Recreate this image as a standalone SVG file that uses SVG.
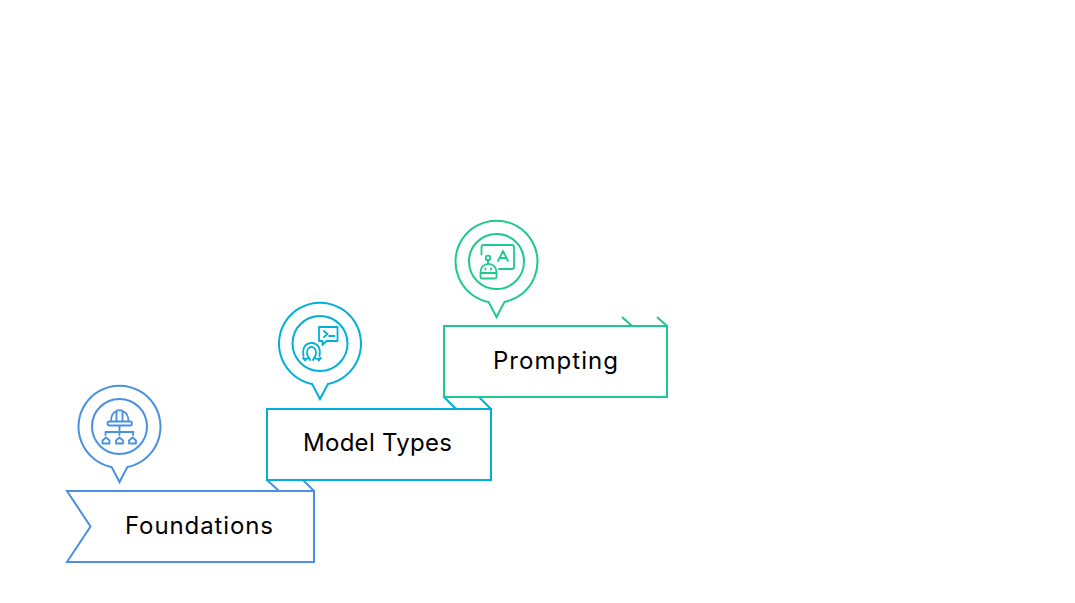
<svg xmlns="http://www.w3.org/2000/svg" width="1075" height="603" viewBox="0 0 1075 603">
<style>
.s{fill:none;stroke-width:2;stroke-linejoin:miter}
.i{fill:none;stroke-width:1.8;stroke-linejoin:round;stroke-linecap:round}
.t{font-family:Inter,"Noto Sans","Liberation Sans",sans-serif;font-size:24px;fill:#000}
.b{stroke:#4a90e2}.c{stroke:#00b0d9}.g{stroke:#1ec98e}
</style>
<defs>
<g id="pin">
<path d="M-8 39.900A41 41 0 1 1 8 39.900L0 55Z"/>
<circle cx="0" cy="-0.500" r="27.500"/>
</g>
</defs>
<rect width="1075" height="603" fill="#fff"/>
<g id="connectors">
<path class="s g" d="M622 317L632 326M657 317L667 326"/>
<path class="s c" d="M444 397L456 409M479 397L491 409"/>
<path class="s b" d="M267 480L279 491M303 480L314 491"/>
</g>
<g id="foundations">
<path class="s b" d="M67 491H314V562H67L90.500 526.500Z"/>
<text class="t" x="125" y="534" textLength="148">Foundations</text>
<use href="#pin" class="s b" x="119.500" y="427"/>
<g class="i b">
<path d="M109.500 421.500H130A1.500 1.500 0 0 1 130 425.500H109.500A1.500 1.500 0 0 1 109.500 421.500ZM111 421.500C111 415 113.500 412 116.500 411V421.500M122.500 421.500V411C125.500 412 128.500 415 128.500 421.500M116.500 411C118 410 121 410 122.500 411"/>
<path d="M119.500 426V435M105.500 432H133.500M105.500 432V435M133 432V435M119.500 432V435"/>
<path d="M102.500 443.500V440.500L106 437.500L109.500 440.500V443.500ZM116 443.500V440.500L119.500 437.500L123 440.500V443.500ZM129 443.500V440.500L132.500 437.500L136 440.500V443.500Z"/>
</g>
</g>
<g id="model-types">
<path class="s c" d="M267 409H491V480H267Z"/>
<text class="t" x="303" y="451" textLength="149">Model Types</text>
<use href="#pin" class="s c" x="320" y="344"/>
<g class="i c">
<path d="M319 327H337.500V341H326.500L322.500 345V341H319Z"/>
<path d="M324 331L327.500 334L324 337M329 336H334.500"/>
<path d="M307 353C307 345 316 345 316 353C316 355 315.500 356 314 358C316 359 319 359 321 358L318.500 360.500M307 353C307 355 307.500 356 309 358C307 359 305 359 303 358L305.500 360.500"/>
<path d="M303.500 356C302 347 306 343 311.500 343C317 343 321 347 319.500 356M309 358L310 360M314 358L313 360"/>
</g>
</g>
<g id="prompting">
<path class="s g" d="M444 326H667V397H444Z"/>
<text class="t" x="493" y="369" textLength="125">Prompting</text>
<use href="#pin" class="s g" x="496.500" y="262"/>
<g class="i g">
<path d="M481.500 254.500V247A2 2 0 0 1 483.500 245H512A2 2 0 0 1 514 247V267A2 2 0 0 1 512 269H499"/>
<path d="M498 261L503 251L508 261M500 258H506"/>
<circle cx="488" cy="258" r="2.300"/>
<path d="M488 260.500V263.500"/>
<path d="M480.500 273V272A7.800 8 0 0 1 496.500 272V273ZM480.500 273V277A1.500 1.500 0 0 0 482 278.500H495A1.500 1.500 0 0 0 496.500 277V273"/>
<path d="M485.500 268.500V269.500M491 268.500V269.500"/>
</g>
</g>
</svg>
